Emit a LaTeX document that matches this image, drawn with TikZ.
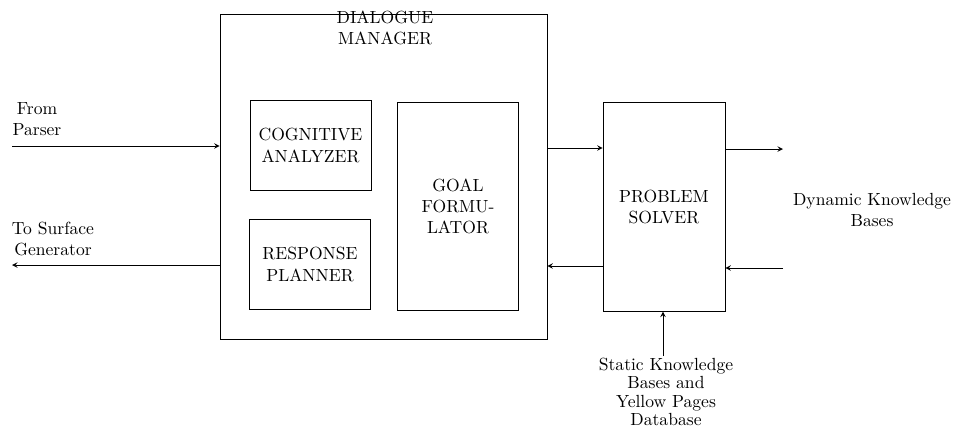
\documentclass[tikz,border=0pt]{standalone}
\usepackage{tikz}
\usetikzlibrary{shapes.geometric, arrows}
\tikzstyle{manager} = [rectangle, minimum width=6.54cm, minimum height=6.5cm, draw=black]
\tikzstyle{module} = [rectangle, minimum width=2.42cm, minimum height=1.8cm, text centered, align=center, draw=black]
\tikzstyle{tallmodule} = [module, minimum height=4.17cm]
\tikzstyle{extern} = [align=center, inner sep=0pt]
\tikzstyle{arrow} = [->,>=stealth]

\begin{document}
\begin{tikzpicture}
\useasboundingbox (0,0) rectangle (19.1,-8.62);
\node (manager) [manager] at (7.67,-3.53) {};
\node (managertitle) [extern] at (7.7,-0.55) {DIALOGUE\\MANAGER};
\node (analyzer) [module] at (6.21,-2.91) {COGNITIVE\\ANALYZER};
\node (planner) [module] at (6.2,-5.29) {RESPONSE\\PLANNER};
\node (formulator) [tallmodule] at (9.16,-4.13) {GOAL\\FORMU-\\LATOR};
\node (solver) [tallmodule, minimum width=2.44cm] at (13.28,-4.14) {PROBLEM\\SOLVER};
\node (parser) [extern] at (0.74,-2.38) {From\\Parser};
\node (generator) [extern] at (1.06,-4.78) {To Surface\\Generator};
\node (dynamic) [extern] at (17.44,-4.2) {Dynamic Knowledge\\Bases};
\node (static) [extern] at (13.32,-7.84) {Static Knowledge\\[-1.5pt]Bases and\\[-1.5pt]Yellow Pages\\[-1.5pt]Database};
\coordinate (parserin) at (0.24,-2.92);
\coordinate (generatorout) at (0.24,-5.3);
\coordinate (dynamicout) at (15.66,-2.98);
\coordinate (dynamicin) at (15.66,-5.36);
\coordinate (staticin) at (13.26,-7.12);
\draw [arrow] (parserin) -- (parserin -| manager.west);
\draw [arrow] (generatorout -| manager.west) -- (generatorout);
\draw [arrow] (manager.east |- 0,-2.96) -- (solver.west |- 0,-2.96);
\draw [arrow] (solver.west |- 0,-5.32) -- (manager.east |- 0,-5.32);
\draw [arrow] (solver.east |- dynamicout) -- (dynamicout);
\draw [arrow] (dynamicin) -- (solver.east |- dynamicin);
\draw [arrow] (staticin) -- (staticin |- solver.south);
\end{tikzpicture}
\end{document}
